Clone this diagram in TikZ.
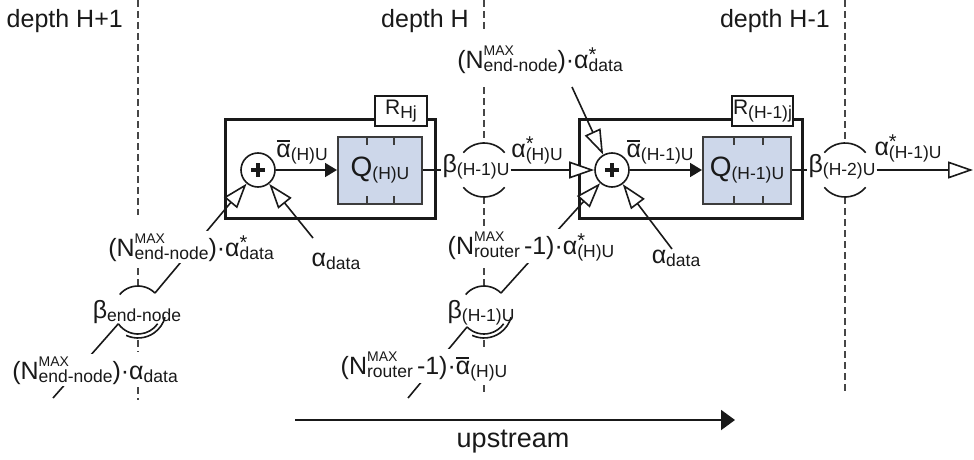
\documentclass[tikz,border=0pt]{standalone}
\usepackage{fontspec}
\setmainfont{Liberation Sans}
\usetikzlibrary{arrows.meta,calc}
\definecolor{qfill}{RGB}{205,215,234}
\definecolor{ink}{RGB}{25,25,25}
\definecolor{dashc}{RGB}{70,70,70}
\newcommand{\lsb}[1]{\raisebox{-3.5pt}{\fontsize{17.5}{18}\selectfont #1}}
\newcommand{\lsp}[1]{\raisebox{13pt}{\fontsize{14}{14}\selectfont #1}}
\newcommand{\ssb}[2]{\rlap{\lsp{#1}}\lsb{#2}}
\newcommand{\stb}[1]{\rlap{\raisebox{6.5pt}{\fontsize{20}{20}\selectfont *}}\lsb{#1}}
\newcommand{\NMX}[1]{N\ssb{MAX}{#1}}
\newcommand{\abar}{\rlap{\hspace{0.5pt}\rule[15.5pt]{13pt}{1.8pt}}α}
\begin{document}
\begin{tikzpicture}[x=1pt,y=-1pt,
  every node/.style={font=\fontsize{25}{30}\selectfont, inner sep=1pt, text=ink},
  lbl/.style={fill=white, inner sep=2pt},
  conn/.style={draw=ink, line width=1.6pt},
  openarr/.style={conn, -{Triangle[length=25pt,width=17pt,fill=white]}},
  filarr/.style={conn, -{Triangle[length=12pt,width=14pt]}},
  outerbox/.style={draw=ink, line width=3pt, rectangle, inner sep=0pt},
  qbox/.style={draw=ink!85, line width=2pt, fill=qfill, rectangle, inner sep=0pt, font=\fontsize{28}{30}\selectfont},
  qtick/.style={draw=ink!85, line width=2pt},
  dsh/.style={draw=dashc, line width=1.1pt, dash pattern=on 7pt off 4pt},
  arcs/.style={draw=ink, line width=1.6pt},
  rlabel/.style={draw=ink, line width=1.2pt, fill=white, minimum height=30pt, inner sep=0pt, font=\fontsize{21}{24}\selectfont},
  adder/.style={circle, draw=ink, line width=1.6pt, minimum size=34pt, inner sep=0pt, fill=white},
  plus/.style={draw=ink, line width=3.5pt}
]
\useasboundingbox (0,0) rectangle (974,460);

% dashed depth separators
\foreach \a/\b in {0/215, 268/286, 340/352, 387/400} \draw[dsh] (138,\a) -- (138,\b);
\foreach \a/\b in {0/30, 87/143, 197/230, 268/286, 340/352, 385/393} \draw[dsh] (484,\a) -- (484,\b);
\foreach \a/\b in {0/143, 197/392} \draw[dsh] (845,\a) -- (845,\b);

% depth labels
\node[anchor=base east] (d1) at (124,28) {depth H+1};
\node[anchor=base east] (d2) at (470,28) {depth H};
\node[anchor=base east] (d3) at (831,28) {depth H-1};

% router boxes
\node[outerbox, minimum width=210pt, minimum height=99pt] (R1) at (330,168.5) {};
\node[outerbox, minimum width=223pt, minimum height=99pt] (R2) at (690.5,168.5) {};
\node[rlabel, minimum width=52pt] (R1l) at (401,111) {R\lsb{Hj}};
\node[rlabel, minimum width=61pt] (R2l) at (762.5,111) {R\lsb{(H-1)j}};

% queues
\node[qbox, minimum width=84pt, minimum height=67pt] (Q1) at (380,170) {Q\lsb{(H)U}};
\node[qbox, minimum width=88pt, minimum height=67pt] (Q2) at (747,170) {Q\lsb{(H-1)U}};
\foreach \x in {367,394,734,763} {
  \draw[qtick] (\x,136.5) -- (\x,144.5);
  \draw[qtick] (\x,203.5) -- (\x,195.5);
}

% adders
\node[adder] (c1) at (258,170) {};
\node[adder] (c2) at (612,170) {};
\foreach \c in {c1,c2} {
  \draw[plus] ($(\c)+(-7,0)$) -- ($(\c)+(7,0)$);
  \draw[plus] ($(\c)+(0,-7)$) -- ($(\c)+(0,7)$);
}

% service curve labels on the main line
\node[anchor=base] (b1) at (476,172) {β\lsb{(H-1)U}};
\node[anchor=base] (b2) at (842,172) {β\lsb{(H-2)U}};
\draw[arcs] ($(484,170)+(40:27pt)$) arc[start angle=40, end angle=140, radius=27pt];
\draw[arcs] ($(484,170)+(220:27pt)$) arc[start angle=220, end angle=320, radius=27pt];
\draw[arcs] ($(845,170)+(40:27pt)$) arc[start angle=40, end angle=140, radius=27pt];
\draw[arcs] ($(845,170)+(220:27pt)$) arc[start angle=220, end angle=320, radius=27pt];

% main flow
\draw[filarr] (c1) -- (Q1);
\draw[conn] (Q1.east) -- (Q1.east -| b1.west);
\draw[openarr] (b1.east |- c2) -- (c2);
\draw[filarr] (c2) -- (Q2);
\draw[conn] (Q2.east) -- (Q2.east -| b2.west);
\coordinate (out) at (973,170);
\draw[openarr] (b2.east |- Q2.east) -- (out);

% data inputs
\coordinate (ad1) at (313,238);
\draw[openarr] (ad1) -- (c1);
\coordinate (ad2) at (672,249);
\draw[openarr] (ad2) -- (c2);
\coordinate (top2) at (572,87);
\draw[openarr] (top2) -- (c2.120);

% end-node bundle
\coordinate (e1) at (138,310);
\draw[arcs] ($(e1)+(140:24pt)$) arc[start angle=140, end angle=45, radius=24pt] coordinate (e1t);
\draw[arcs] ($(e1)+(215:24pt)$) coordinate (e1b) arc[start angle=215, end angle=325, radius=24pt];
\draw[arcs] ($(e1)+(245:28pt)$) arc[start angle=245, end angle=345, radius=28pt];
\draw[openarr] (e1t) -- (c1);
\coordinate (e1s) at (53,398);
\draw[conn] (e1b) -- (e1s);

% router bundle
\coordinate (e2) at (484,310);
\draw[arcs] ($(e2)+(140:24pt)$) arc[start angle=140, end angle=45, radius=24pt] coordinate (e2t);
\draw[arcs] ($(e2)+(225:24pt)$) coordinate (e2b) arc[start angle=225, end angle=325, radius=24pt];
\draw[arcs] ($(e2)+(245:28pt)$) arc[start angle=245, end angle=345, radius=28pt];
\draw[openarr] (e2t) -- (c2);
\coordinate (e2s) at (408,398);
\draw[conn] (e2b) -- (e2s);

% labels
\node[anchor=base] (be) at (137,318) {β\lsb{end-node}};
\node[anchor=base] (br) at (481,318) {β\lsb{(H-1)U}};
\node[lbl, anchor=base] (L1) at (191,256) {(\NMX{end-node})·α\stb{data}};
\node[lbl, anchor=base] (L2) at (95,379) {(\NMX{end-node})·α\lsb{data}};
\node[lbl, anchor=base] (L3) at (540,68) {(\NMX{end-node})·α\stb{data}};
\node[lbl, anchor=base] (LR1) at (531,254) {(\NMX{router}\,-1)·α\stb{(H)U}};
\node[lbl, anchor=base] (LR2) at (424,374) {(\NMX{router}\,-1)·\abar\lsb{(H)U}};
\node[anchor=base] (a1) at (302,157) {\abar\lsb{(H)U}};
\node[anchor=base] (a2) at (537,157) {α\stb{(H)U}};
\node[anchor=base] (a3) at (660,157) {\abar\lsb{(H-1)U}};
\node[anchor=base] (a4) at (908,155) {α\stb{(H-1)U}};
\node[anchor=base] (ad1l) at (336,266) {α\lsb{data}};
\node[anchor=base] (ad2l) at (676,263) {α\lsb{data}};

% upstream arrow
\coordinate (u0) at (295,420);
\coordinate (u1) at (735,420);
\draw[draw=ink, line width=2pt, -{Triangle[length=14pt,width=20pt]}] (u0) -- (u1);
\node[anchor=base, font=\fontsize{27}{30}\selectfont] (up) at (513,447) {upstream};
\end{tikzpicture}
\end{document}
